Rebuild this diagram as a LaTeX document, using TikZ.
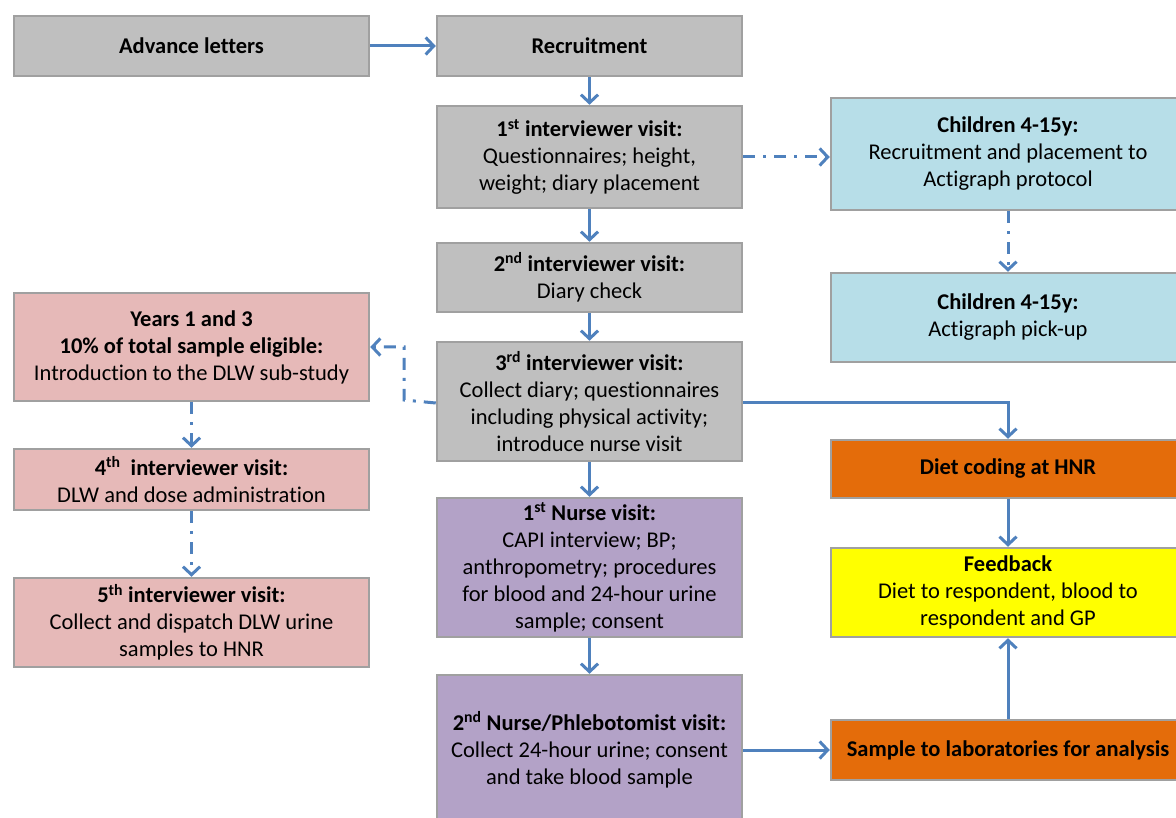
\documentclass[tikz,border=0pt]{standalone}
\usepackage{fontspec}
\setmainfont{Carlito}[Ligatures={NoCommon,NoRare}]
\usetikzlibrary{arrows.meta}
\definecolor{boxgray}{HTML}{BFBFBF}
\definecolor{edgegray}{HTML}{A0A0A0}
\definecolor{pinkbox}{HTML}{E6B9B8}
\definecolor{bluebox}{HTML}{B7DEE8}
\definecolor{orangebox}{HTML}{E46C0A}
\definecolor{yellowbox}{HTML}{FFFF00}
\definecolor{purplebox}{HTML}{B3A2C7}
\definecolor{arrowblue}{HTML}{4F81BD}
\tikzset{
  box/.style={draw=edgegray, line width=2.5pt, align=center, inner sep=2pt,
    font=\fontsize{22.5}{27}\selectfont, text=black},
  wbox/.style={box, minimum width=305pt},
  lbox/.style={box, minimum width=355pt},
  rbox/.style={box, minimum width=354pt},
  conn/.style={draw=arrowblue, line width=3pt, -{Straight Barb[length=8pt,width=17pt,line width=3pt]}},
  dconn/.style={conn, dash pattern=on 12pt off 8pt on 3pt off 8pt}
}
\begin{document}
\begin{tikzpicture}[x=1pt,y=-1pt]
\useasboundingbox (0,0) rectangle (1176,818);
\clip (0,0) rectangle (1176,818);
\fill[white] (0,0) rectangle (1176,818);
% gray column
\node[lbox, fill=boxgray, minimum height=60pt] (adv) at (191.5,46) {\textbf{Advance letters}};
\node[wbox, fill=boxgray, minimum height=60pt] (rec) at (589.5,46) {\textbf{Recruitment}};
\node[wbox, fill=boxgray, minimum height=102pt] (v1) at (589.5,157) {\textbf{1\textsuperscript{st} interviewer visit:}\\Questionnaires; height,\\weight; diary placement};
\node[wbox, fill=boxgray, minimum height=69pt] (v2) at (589.5,277.5) {\textbf{2\textsuperscript{nd} interviewer visit:}\\Diary check};
\node[wbox, fill=boxgray, minimum height=119pt] (v3) at (589.5,401.5) {\textbf{3\textsuperscript{rd} interviewer visit:}\\Collect diary; questionnaires\\including physical activity;\\introduce nurse visit};
\node[wbox, fill=purplebox, minimum height=139pt] (n1) at (589.5,567.5) {\textbf{1\textsuperscript{st} Nurse visit:}\\CAPI interview; BP;\\anthropometry; procedures\\for blood and 24-hour urine\\sample; consent};
\node[wbox, fill=purplebox, minimum height=150pt] (n2) at (589.5,750) {\textbf{2\textsuperscript{nd} Nurse/Phlebotomist visit:}\\Collect 24-hour urine; consent\\and take blood sample};
% right column
\node[rbox, fill=bluebox, minimum height=112pt] (ch1) at (1008,154) {\textbf{Children 4-15y:}\\Recruitment and placement to\\Actigraph protocol};
\node[rbox, fill=bluebox, minimum height=89pt] (ch2) at (1008,317.5) {\textbf{Children 4-15y:}\\Actigraph pick-up};
\node[rbox, fill=orangebox, minimum height=58pt] (diet) at (1008,469) {\textbf{Diet coding at HNR}};
\node[rbox, fill=yellowbox, minimum height=89pt] (fb) at (1008,592.5) {\textbf{Feedback}\\Diet to respondent, blood to\\respondent and GP};
\node[rbox, fill=orangebox, minimum height=60pt] (samp) at (1008,750) {\textbf{Sample to laboratories for analysis}};
% left column
\node[lbox, fill=pinkbox, minimum height=108pt] (yrs) at (191.5,347) {\textbf{Years 1 and 3}\\\textbf{10\% of total sample eligible:}\\Introduction to the DLW sub-study};
\node[lbox, fill=pinkbox, minimum height=61pt] (v4) at (191.5,479.5) {\textbf{4\textsuperscript{th}\ \ interviewer visit:}\\DLW and dose administration};
\node[lbox, fill=pinkbox, minimum height=89pt] (v5) at (191.5,622.5) {\textbf{5\textsuperscript{th} interviewer visit:}\\Collect and dispatch DLW urine\\samples to HNR};
% connectors
\draw[conn] (adv.east) -- (rec.west);
\draw[conn] (rec.south) -- (v1.north);
\draw[conn] (v1.south) -- (v2.north);
\draw[conn] (v2.south) -- (v3.north);
\draw[conn] (v3.south) -- (n1.north);
\draw[conn] (n1.south) -- (n2.north);
\draw[dconn] (v1.east) -- (ch1.west |- v1.east);
\draw[dconn] (ch1.south) -- (ch2.north);
\coordinate (v3w) at ([yshift=-1.5pt]v3.west);
\coordinate (bend) at (404,400);
\draw[dconn] (v3w) -- (bend) |- (yrs.east);
\draw[dconn] (yrs.south) -- (v4.north);
\draw[dconn] (v4.south) -- (v5.north);
\coordinate (v3e) at ([yshift=-1.5pt]v3.east);
\draw[conn] (v3e) -| (diet.north);
\draw[conn] (diet.south) -- (fb.north);
\draw[conn] (samp.north) -- (fb.south);
\draw[conn] (n2.east) -- (samp.west);
\end{tikzpicture}
\end{document}
